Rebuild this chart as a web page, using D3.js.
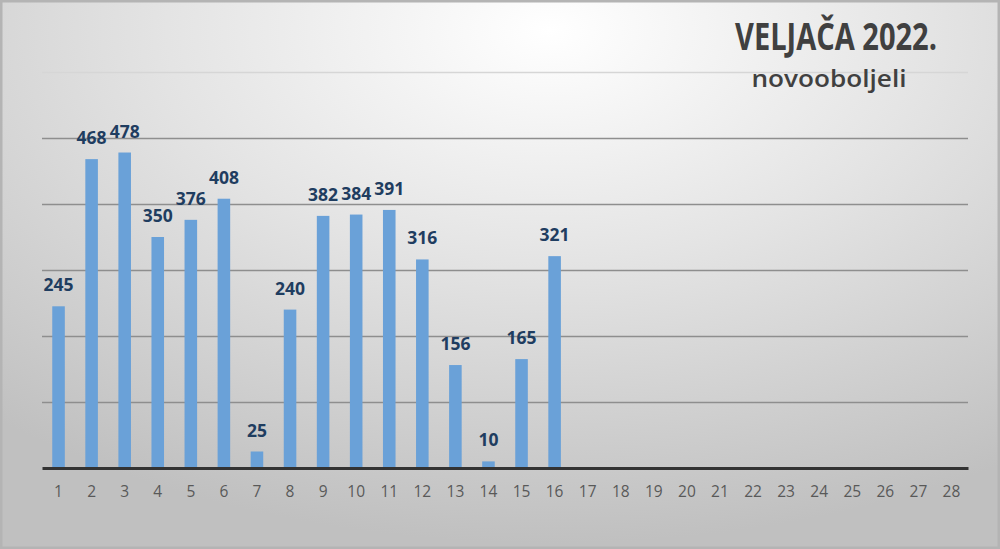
<!DOCTYPE html>
<html>
<head>
<meta charset="utf-8">
<script src="https://cdn.jsdelivr.net/npm/d3@7"></script>
<style>
  html, body { margin: 0; padding: 0; background: #fff; }
  svg { display: block; }
</style>
</head>
<body>
<div id="chart"></div>
<script>
// podaci: novooboljeli po danu, veljača 2022.
const days = d3.range(1, 29).map(String);
const cases = [245, 468, 478, 350, 376, 408, 25, 240, 382, 384, 391, 316, 156, 10, 165, 321];
const gridValues = [100, 200, 300, 400, 500, 600];
const titleText = "VELJAČA 2022.";
const subtitleText = "novooboljeli";

const width = 1000, height = 549;
const margin = { top: 72, right: 32, bottom: 81, left: 42 };

const svg = d3.select("#chart").append("svg")
    .attr("width", width)
    .attr("height", height);

// pozadina - sivi gradijent
const defs = svg.append("defs");
const grad = defs.append("radialGradient")
    .attr("id", "bg")
    .attr("cx", 0.55).attr("cy", 0.05)
    .attr("r", 0.85)
    .attr("gradientTransform", "scale(1,1.1)");
grad.append("stop").attr("offset", "0%").attr("stop-color", "#ffffff");
grad.append("stop").attr("offset", "45%").attr("stop-color", "#e4e4e4");
grad.append("stop").attr("offset", "100%").attr("stop-color", "#c0c0c0");

svg.append("rect")
    .attr("width", width).attr("height", height)
    .attr("fill", "url(#bg)");
svg.append("rect")
    .attr("x", 1).attr("y", 1)
    .attr("width", width - 2).attr("height", height - 2)
    .attr("fill", "none")
    .attr("stroke", "#b4b4b4")
    .attr("stroke-width", 3);

const x = d3.scaleBand()
    .domain(days)
    .range([margin.left, width - margin.right])
    .paddingInner(0.62)
    .paddingOuter(0.31);

const y = d3.scaleLinear()
    .domain([0, 600])
    .range([height - margin.bottom, margin.top]);

// mreža (gornja linija je bljeđa)
svg.append("g")
    .selectAll("line")
    .data(gridValues)
    .join("line")
    .attr("x1", margin.left)
    .attr("x2", width - margin.right)
    .attr("y1", d => Math.round(y(d)) + 0.5)
    .attr("y2", d => Math.round(y(d)) + 0.5)
    .attr("stroke", d => d === 600 ? "#d6d6d6" : "#8e8e8e")
    .attr("stroke-width", 1.4);

// stupci
svg.append("g")
    .selectAll("rect")
    .data(cases)
    .join("rect")
    .attr("x", (d, i) => x(days[i]))
    .attr("y", d => y(d))
    .attr("width", x.bandwidth())
    .attr("height", d => y(0) - y(d))
    .attr("fill", "#6aa1d8");

// oznake vrijednosti
svg.append("g")
    .selectAll("text")
    .data(cases)
    .join("text")
    .attr("x", (d, i) => x(days[i]) + x.bandwidth() / 2)
    .attr("y", d => y(d) - 15)
    .attr("text-anchor", "middle")
    .attr("font-family", "'Open Sans', sans-serif")
    .attr("font-weight", "bold")
    .attr("font-size", 17.5)
    .attr("fill", "#1f3d60")
    .text(d => d);

// os x
const xAxis = d3.axisBottom(x).tickSize(0).tickPadding(18);
const gx = svg.append("g")
    .attr("transform", `translate(0,${y(0)})`)
    .call(xAxis);
gx.select(".domain")
    .attr("stroke", "#333")
    .attr("stroke-width", 3);
gx.selectAll("text")
    .attr("font-family", "'Open Sans', sans-serif")
    .attr("font-size", 15.5)
    .attr("fill", "#595959");

// naslov
svg.append("text")
    .attr("x", 836)
    .attr("y", 50)
    .attr("text-anchor", "middle")
    .attr("font-family", "'Open Sans', sans-serif")
    .attr("font-weight", "bold")
    .attr("font-size", 37)
    .attr("textLength", 202)
    .attr("lengthAdjust", "spacingAndGlyphs")
    .attr("fill", "#404040")
    .text(titleText);

svg.append("text")
    .attr("x", 829)
    .attr("y", 87)
    .attr("text-anchor", "middle")
    .attr("font-family", "'Open Sans', sans-serif")
    .attr("font-weight", 600)
    .attr("font-size", 24)
    .attr("textLength", 155)
    .attr("lengthAdjust", "spacingAndGlyphs")
    .attr("fill", "#404040")
    .text(subtitleText);
</script>
</body>
</html>
